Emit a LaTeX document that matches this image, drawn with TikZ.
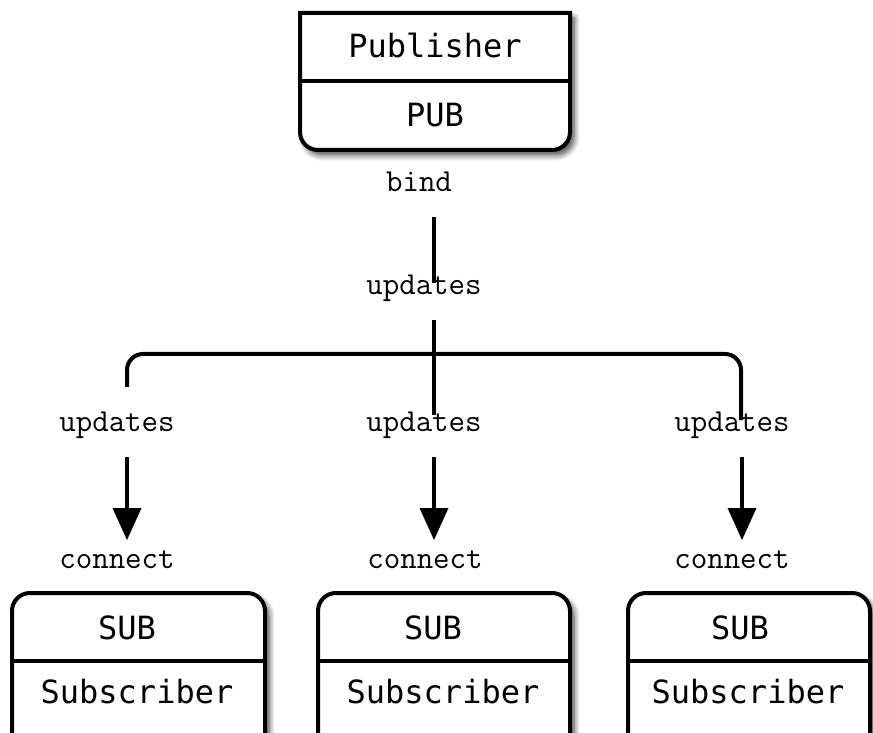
\documentclass[tikz,border=0pt]{standalone}
\usepackage{fontspec}
\newfontfamily\boxfont{DejaVu Sans Mono}
\usetikzlibrary{arrows.meta, shadows.blur}
\tikzset{
  wire/.style={line width=4pt},
  arr/.style={line width=4pt, -{Triangle[length=32pt,width=29pt,line width=0pt,fill=black,color=black]}},
  boxline/.style={line width=4pt, fill=white,
    blur shadow={shadow xshift=4pt, shadow yshift=-5pt, shadow blur steps=8, shadow blur radius=6pt, shadow opacity=75}},
  lbl/.style={font=\fontsize{32}{36}\selectfont\ttfamily, inner sep=0pt},
  cell/.style={font=\fontsize{32}{36}\selectfont\boxfont, inner sep=0pt}
}
\begin{document}
\begin{tikzpicture}[x=1pt, y=1pt]
\useasboundingbox (0,0) rectangle (873,732);
\draw[boxline] (300,719) -- (300,600) arc[start angle=180, end angle=270, radius=18]
  -- (552,582) arc[start angle=270, end angle=360, radius=18] -- (570,719) -- cycle;
\draw[wire] (300,651) -- (570,651);
\draw[boxline] (12,-20) -- (12,121) arc[start angle=180, end angle=90, radius=18]
  -- (247,139) arc[start angle=90, end angle=0, radius=18] -- (265,-20) -- cycle;
\draw[wire] (12,71) -- (265,71);
\draw[boxline] (318,-20) -- (318,121) arc[start angle=180, end angle=90, radius=18]
  -- (552,139) arc[start angle=90, end angle=0, radius=18] -- (570,-20) -- cycle;
\draw[wire] (318,71) -- (570,71);
\draw[boxline] (628,-20) -- (628,121) arc[start angle=180, end angle=90, radius=18]
  -- (852,139) arc[start angle=90, end angle=0, radius=18] -- (870,-20) -- cycle;
\draw[wire] (628,71) -- (870,71);
\node[cell] (pubname) at (435,687) {Publisher};
\node[cell] (pubsock) at (435,617) {PUB};
\node[cell] (subsockL) at (127,104) {SUB};
\node[cell] (subnameL) at (137,40) {Subscriber};
\node[cell] (subsockM) at (433,104) {SUB};
\node[cell] (subnameM) at (443,40) {Subscriber};
\node[cell] (subsockR) at (740,104) {SUB};
\node[cell] (subnameR) at (748,40) {Subscriber};
\node[lbl] (bind) at (419,550) {bind};
\node[lbl] (upd) at (424,444) {updates};
\node[lbl] (updL) at (117,307) {updates};
\node[lbl] (updM) at (424,307) {updates};
\node[lbl] (updR) at (732,307) {updates};
\node[lbl] (conL) at (117,172) {connect};
\node[lbl] (conM) at (425,172) {connect};
\node[lbl] (conR) at (732,172) {connect};
\coordinate (b1) at (434,515);
\coordinate (b2) at (434,449);
\coordinate (j1) at (434,412);
\coordinate (j2) at (434,317);
\coordinate (busL) at (127,345);
\coordinate (busR) at (741,312);
\coordinate (busT) at (741,378);
\draw[wire] (b1) -- (b2);
\draw[wire] (j1) -- (j2);
\draw[wire, rounded corners=16] (busL) |- (busT) -- (busR);
\draw[arr] (127,275) -- (127,192);
\draw[arr] (434,275) -- (434,192);
\draw[arr] (742,275) -- (742,192);
\end{tikzpicture}
\end{document}
